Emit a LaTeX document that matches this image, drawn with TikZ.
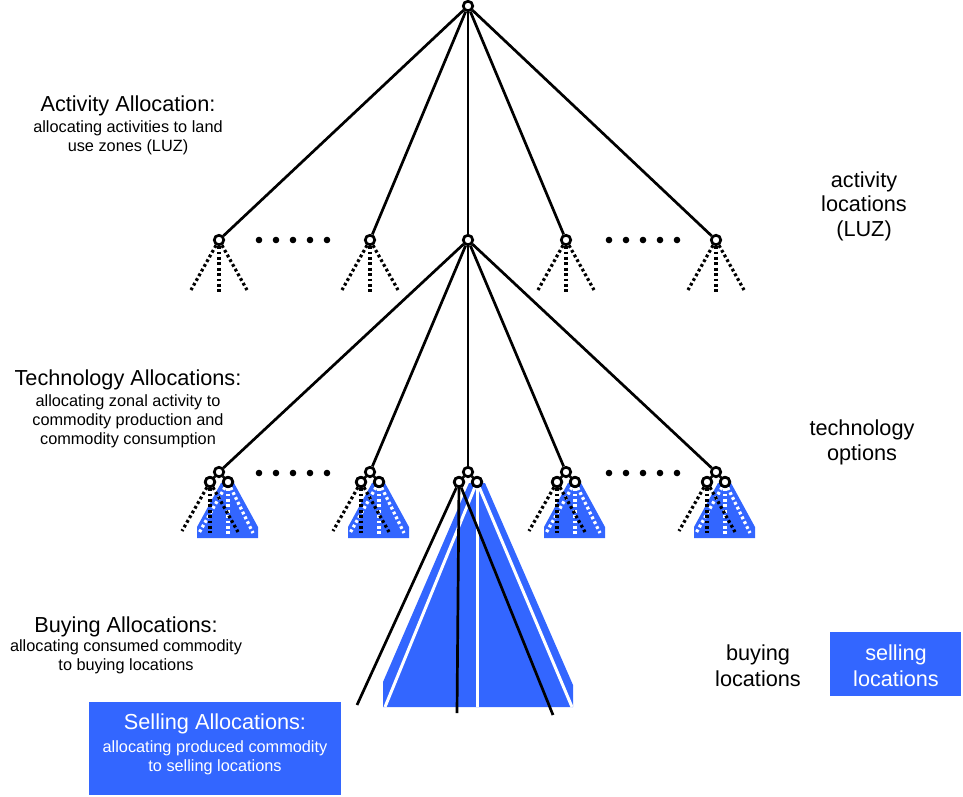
\documentclass[tikz,border=0pt]{standalone}
\usepackage{fontspec}
\setmainfont{Liberation Sans}
\definecolor{myblue}{RGB}{51,102,255}
\begin{document}
\begin{tikzpicture}[x=1pt,y=-1pt,
  nd/.style={circle,draw,line width=2.7pt,fill=white,minimum size=9.5pt,inner sep=0pt},
  edge/.style={line width=2.7pt},
  dotline/.style={line width=3.2pt,dash pattern=on 2.8pt off 2.6pt},
  wdotline/.style={dotline,white},
  wline/.style={line width=3pt,white},
  ttl/.style={anchor=base,inner sep=0pt,font=\fontsize{21.7}{26}\selectfont},
  subl/.style={anchor=base,inner sep=0pt,font=\fontsize{16.3}{19}\selectfont},
  boxb/.style={fill=myblue,inner sep=0pt,anchor=north west}
]
\useasboundingbox (0,0) rectangle (963,796);

% blue shapes (drawn first)
\foreach \n/\x in {a/219,b/370,d/566,e/716}{
  \fill[myblue] (\x+2,483) -- (\x+15,483) -- (\x+39,527) -- (\x+39,538) -- (\x-22,538) -- (\x-22,527) -- cycle;
}
\fill[myblue] (469,483) -- (485,483) -- (573,685) -- (573,707) -- (383,707) -- (383,682) -- cycle;

% top node and level 1
\node[nd] (top) at (468,6) {};
\foreach \n/\x in {a/219,b/370,c/468,d/566,e/716}{
  \node[nd] (A\n) at (\x,240) {};
  \draw[edge] (top) -- (A\n);
}
\foreach \n/\x in {a/219,b/370,d/566,e/716}{
  \coordinate (A\n1) at (\x-28,290);
  \coordinate (A\n2) at (\x,294);
  \coordinate (A\n3) at (\x+28,290);
  \draw[dotline] (A\n) -- (A\n1);
  \draw[dotline] (A\n) -- (A\n2);
  \draw[dotline] (A\n) -- (A\n3);
}

% level 2
\foreach \n/\x in {a/219,b/370,c/468,d/566,e/716}{
  \node[nd] (G\n) at (\x,472) {};
  \node[nd] (GL\n) at (\x-9,482) {};
  \node[nd] (GR\n) at (\x+9,482) {};
  \draw[edge] (Ac) -- (G\n);
  \draw[edge] (G\n) -- (GL\n);
  \draw[edge] (G\n) -- (GR\n);
}
\foreach \n/\x in {a/219,b/370,d/566,e/716}{
  \coordinate (W\n1) at (\x-20,533);
  \coordinate (W\n2) at (\x+9,536);
  \coordinate (W\n3) at (\x+34,533);
  \coordinate (K\n1) at (\x-37,531);
  \coordinate (K\n2) at (\x-9,533);
  \coordinate (K\n3) at (\x+19,532);
  \draw[wdotline] (GR\n) -- (W\n1);
  \draw[wdotline] (GR\n) -- (W\n2);
  \draw[wdotline] (GR\n) -- (W\n3);
  \draw[dotline] (GL\n) -- (K\n1);
  \draw[dotline] (GL\n) -- (K\n2);
  \draw[dotline] (GL\n) -- (K\n3);
}
% big group
\coordinate (Wc1) at (385,707);
\coordinate (Wc2) at (477,707);
\coordinate (Wc3) at (572,707);
\coordinate (Kc1) at (357,705);
\coordinate (Kc2) at (457,713);
\coordinate (Kc3) at (553,715);
\draw[wline] (GRc) -- (Wc1);
\draw[wline] (GRc) -- (Wc2);
\draw[wline] (GRc) -- (Wc3);
\draw[edge] (GLc) -- (Kc1);
\draw[edge] (GLc) -- (Kc2);
\draw[edge] (GLc) -- (Kc3);
% redraw circles of the level-2 groups on top
\foreach \n/\x in {a/219,b/370,c/468,d/566,e/716}{
  \draw[line width=2.7pt,fill=white] (\x-9,482) circle (4.75);
  \draw[line width=2.7pt,fill=white] (\x+9,482) circle (4.75);
}

% ellipsis dots
\foreach \y in {240,473}{
  \foreach \x in {259,276,293,310,327,609,626,643,660,677}{
    \fill (\x,\y) circle (3.3);
  }
}

% left labels
\node[ttl] (t1) at (128,111) {Activity Allocation:};
\node[subl] (t1a) at (128,132) {allocating activities to land};
\node[subl] (t1b) at (128,151) {use zones (LUZ)};

\node[ttl] (t2) at (128,385) {Technology Allocations:};
\node[subl] (t2a) at (128,406) {allocating zonal activity to};
\node[subl] (t2b) at (128,425) {commodity production and};
\node[subl] (t2c) at (128,444) {commodity consumption};

\node[ttl] (t3) at (126,632) {Buying Allocations:};
\node[subl] (t3a) at (126,651) {allocating consumed commodity};
\node[subl] (t3b) at (126,670) {to buying locations};

\node[boxb,minimum width=252pt,minimum height=93pt] (sbox) at (89,702) {};
\node[ttl,text=white] (t4) at (215,729) {Selling Allocations:};
\node[subl,text=white] (t4a) at (215,752) {allocating produced commodity};
\node[subl,text=white] (t4b) at (215,771) {to selling locations};

% right labels
\node[ttl] (r1) at (864,187) {activity};
\node[ttl] (r1b) at (864,211) {locations};
\node[ttl] (r1c) at (864,236) {(LUZ)};

\node[ttl] (r2) at (862,435) {technology};
\node[ttl] (r2b) at (862,460) {options};

\node[ttl] (r3) at (758,660) {buying};
\node[ttl] (r3b) at (758,686) {locations};

\node[boxb,minimum width=131pt,minimum height=64pt] (lbox) at (830,632) {};
\node[ttl,text=white] (r4) at (896,660) {selling};
\node[ttl,text=white] (r4b) at (896,686) {locations};
\end{tikzpicture}
\end{document}
